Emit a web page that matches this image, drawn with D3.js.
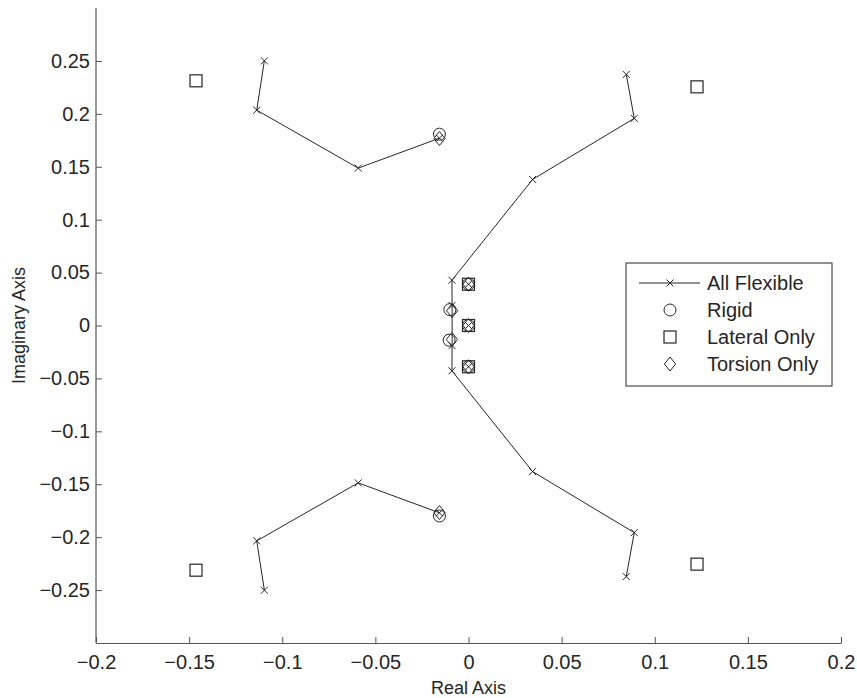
<!DOCTYPE html>
<html>
<head>
<meta charset="utf-8">
<script src="https://cdn.jsdelivr.net/npm/d3@7/dist/d3.min.js"></script>
<style>
    body { margin: 0; background: #fff; }
    svg text { font-family: "Liberation Sans", Arial, sans-serif; fill: #262626; }
</style>
</head>
<body>
<div class="rootChart"></div>
<script>
// All Flexible branches (each drawn as its own line)
const flexUpperLeft = [[-0.1096, 0.2501], [-0.1137, 0.2035], [-0.0592, 0.1487], [-0.0156, 0.1770]];
const flexLowerLeft = [[-0.1096, -0.2501], [-0.1137, -0.2035], [-0.0592, -0.1487], [-0.0156, -0.1770]];
const flexRight = [[0.0847, 0.2372], [0.0890, 0.1957], [0.0344, 0.1380], [-0.0089, 0.0428], [-0.0088, 0.0190],
    [-0.0088, -0.0190], [-0.0089, -0.0428], [0.0344, -0.1380], [0.0890, -0.1957], [0.0847, -0.2372]];
const flexIsolated = [[0, 0.039], [0, 0], [0, -0.039]];

const rigidPoints = [[-0.0156, 0.1808], [-0.0156, -0.1800], [-0.0100, 0.0150], [-0.0104, -0.0139],
    [0, 0.039], [0, 0], [0, -0.039]];
const lateralPoints = [[-0.1463, 0.2312], [-0.1463, -0.2312], [0.1227, 0.2255], [0.1227, -0.2255],
    [0, 0.039], [0, 0], [0, -0.039]];
const torsionPoints = [[-0.0156, 0.1767], [-0.0156, -0.1767], [-0.0088, 0.0140], [-0.0089, -0.0132],
    [0, 0.039], [0, 0], [0, -0.039]];

const xTicks = [-0.2, -0.15, -0.1, -0.05, 0, 0.05, 0.1, 0.15, 0.2];
const yTicks = [-0.25, -0.2, -0.15, -0.1, -0.05, 0, 0.05, 0.1, 0.15, 0.2, 0.25];
const legendLabels = ['All Flexible', 'Rigid', 'Lateral Only', 'Torsion Only'];

let margins = {top: 8, right: 16, bottom: 55, left: 96},
    baseWidth = 857, baseHeight = 698,
    width = baseWidth - margins.left - margins.right,
    height = baseHeight - margins.top - margins.bottom;

let svg = d3.select('.rootChart').append('svg')
    .attr('width', baseWidth)
    .attr('height', baseHeight);

let chartLayer = svg.append('g')
    .attr('transform', 'translate(' + margins.left + ',' + margins.top + ')');

let x = d3.scaleLinear().domain([-0.2, 0.2]).range([0, width]);
let y = d3.scaleLinear().domain([-0.3, 0.3]).range([height, 0]);
let fmt = d => d === 0 ? '0' : d3.format('')(d);
let ink = '#262626';

// axes
let xAxisGroup = chartLayer.append('g')
    .attr('transform', 'translate(0,' + height + ')')
    .call(d3.axisBottom(x).tickValues(xTicks).tickFormat(fmt).tickSizeInner(-6).tickSizeOuter(0).tickPadding(12));
let yAxisGroup = chartLayer.append('g')
    .call(d3.axisLeft(y).tickValues(yTicks).tickFormat(fmt).tickSizeInner(-6).tickSizeOuter(0).tickPadding(6));
[xAxisGroup, yAxisGroup].forEach(g => {
    g.selectAll('.domain').attr('stroke', '#555').attr('stroke-width', 1.2);
    g.selectAll('.tick line').attr('stroke', '#555');
    g.selectAll('text').attr('font-size', 20).attr('font-family', '"Liberation Sans", Arial, sans-serif').attr('fill', ink);
});
// the y axis runs to the top of the domain
yAxisGroup.select('.domain').attr('d', 'M0,' + y(-0.3) + 'V' + y(0.3));

svg.append('text')
    .attr('x', margins.left + x(0))
    .attr('y', 694)
    .attr('text-anchor', 'middle')
    .attr('font-size', 18)
    .text('Real Axis');
svg.append('text')
    .attr('transform', 'translate(25,' + (margins.top + y(0)) + ') rotate(-90)')
    .attr('text-anchor', 'middle')
    .attr('font-size', 18)
    .text('Imaginary Axis');

// marker helpers
function drawCross(g, cx, cy) {
    let s = 3.5;
    g.append('path')
        .attr('d', 'M' + (cx - s) + ',' + (cy - s) + 'L' + (cx + s) + ',' + (cy + s) +
            'M' + (cx - s) + ',' + (cy + s) + 'L' + (cx + s) + ',' + (cy - s))
        .attr('stroke', ink).attr('stroke-width', 1).attr('fill', 'none');
}
function drawCircle(g, cx, cy) {
    g.append('circle').attr('cx', cx).attr('cy', cy).attr('r', 6)
        .attr('stroke', ink).attr('stroke-width', 1).attr('fill', 'none');
}
function drawSquare(g, cx, cy) {
    let s = 6;
    g.append('rect').attr('x', cx - s).attr('y', cy - s).attr('width', 2 * s).attr('height', 2 * s)
        .attr('stroke', ink).attr('stroke-width', 1.2).attr('fill', 'none');
}
function drawDiamond(g, cx, cy) {
    let s = 7;
    g.append('path')
        .attr('d', 'M' + cx + ',' + (cy - s) + 'L' + (cx + s * 0.8) + ',' + cy + 'L' + cx + ',' + (cy + s) +
            'L' + (cx - s * 0.8) + ',' + cy + 'Z')
        .attr('stroke', ink).attr('stroke-width', 1).attr('fill', 'none');
}

let line = d3.line().x(d => x(d[0])).y(d => y(d[1]));
let plotLayer = chartLayer.append('g');

[flexUpperLeft, flexLowerLeft, flexRight].forEach(branch => {
    plotLayer.append('path')
        .datum(branch)
        .attr('d', line)
        .attr('stroke', ink).attr('stroke-width', 1).attr('fill', 'none');
    branch.forEach(p => drawCross(plotLayer, x(p[0]), y(p[1])));
});
flexIsolated.forEach(p => drawCross(plotLayer, x(p[0]), y(p[1])));
rigidPoints.forEach(p => drawCircle(plotLayer, x(p[0]), y(p[1])));
lateralPoints.forEach(p => drawSquare(plotLayer, x(p[0]), y(p[1])));
torsionPoints.forEach(p => drawDiamond(plotLayer, x(p[0]), y(p[1])));

// legend
let legend = svg.append('g').attr('transform', 'translate(626,263)');
legend.append('rect')
    .attr('width', 206).attr('height', 123)
    .attr('fill', '#fff').attr('stroke', ink).attr('stroke-width', 1);
legendLabels.forEach((label, i) => {
    let cy = 20 + i * 27;
    if (i === 0) {
        legend.append('line').attr('x1', 13).attr('x2', 74).attr('y1', cy).attr('y2', cy)
            .attr('stroke', ink).attr('stroke-width', 1);
        drawCross(legend, 44, cy);
    } else if (i === 1) {
        drawCircle(legend, 44, cy);
    } else if (i === 2) {
        drawSquare(legend, 44, cy);
    } else {
        drawDiamond(legend, 44, cy);
    }
    legend.append('text')
        .attr('x', 81).attr('y', cy + 7)
        .attr('font-size', 20)
        .text(label);
});
</script>
</body>
</html>
